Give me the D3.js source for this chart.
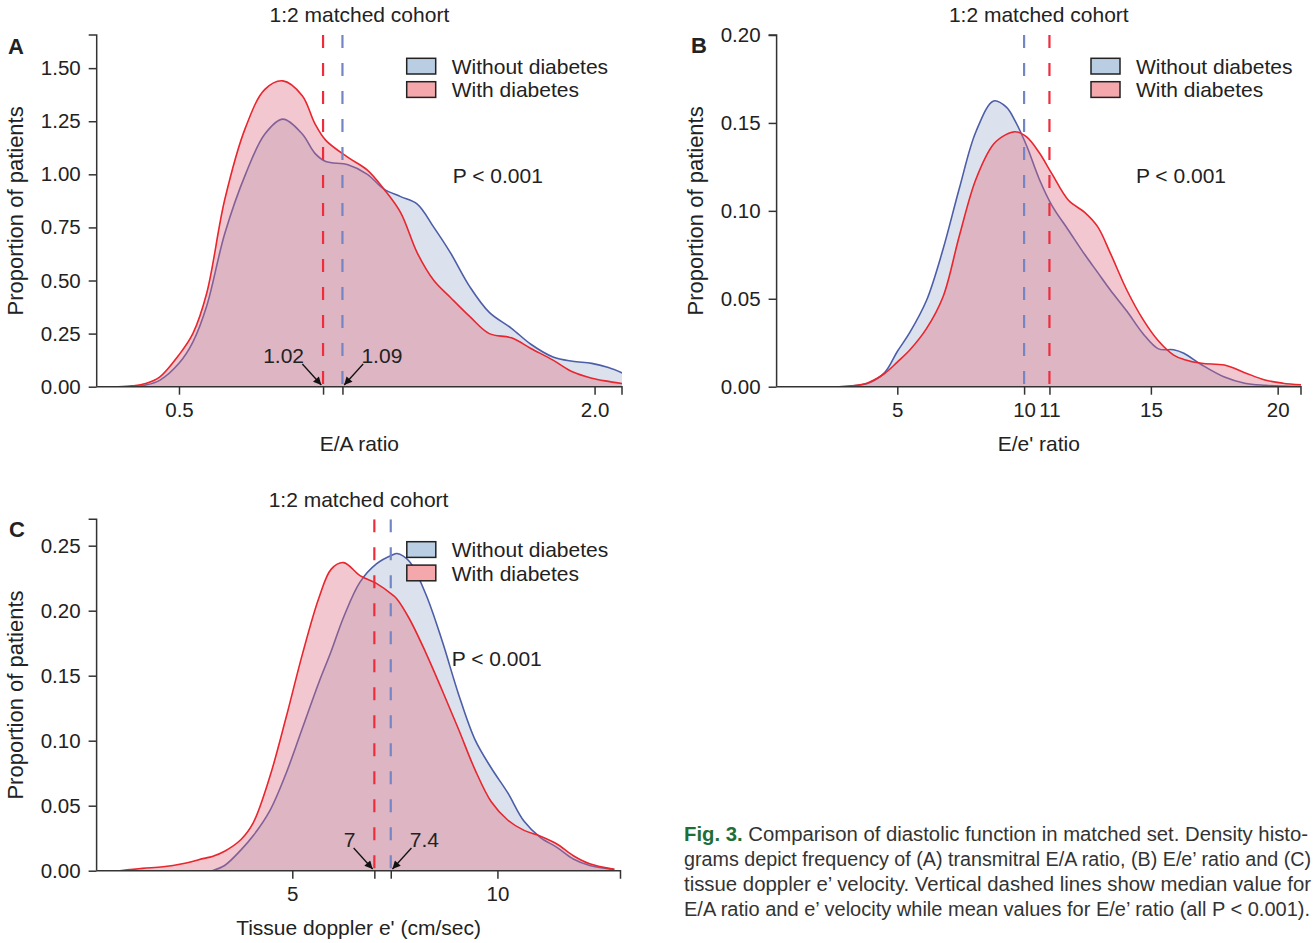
<!DOCTYPE html>
<html>
<head>
<meta charset="utf-8">
<script src="https://cdn.jsdelivr.net/npm/d3@7"></script>
<style>
  body { margin: 0; background: #fff; }
  svg { display: block; font-family: "Liberation Sans", Arial, sans-serif; }
</style>
</head>
<body>
<script>
// ---- data ----
const seriesNames = ["Without diabetes", "With diabetes"];

// A: E/A ratio
const eaX = [0.28, 0.33, 0.38, 0.43, 0.50, 0.55, 0.60, 0.665, 0.74, 0.81, 0.875, 0.945, 0.99, 1.03, 1.11,
  1.18, 1.24, 1.30, 1.36, 1.42, 1.48, 1.55, 1.62, 1.70, 1.77, 1.85, 1.92, 1.99, 2.05, 2.10];
const eaWithout = [0, 0, 0.008, 0.03, 0.11, 0.21, 0.38, 0.72, 1.00, 1.19, 1.26, 1.19, 1.10, 1.06, 1.045,
  1.00, 0.93, 0.895, 0.86, 0.75, 0.63, 0.47, 0.35, 0.275, 0.20, 0.14, 0.12, 0.11, 0.09, 0.065];
const eaWith = [0, 0.004, 0.015, 0.045, 0.15, 0.25, 0.44, 0.88, 1.22, 1.40, 1.44, 1.37, 1.24, 1.16, 1.08,
  1.02, 0.93, 0.82, 0.63, 0.50, 0.42, 0.33, 0.25, 0.23, 0.18, 0.125, 0.07, 0.04, 0.025, 0.015];
const eaMedians = [1.09, 1.02];
const eaXTicks = [0.5, 1.02, 1.09, 2.0];
const eaXLabels = ["0.5", "", "", "2.0"];
const eaYTicks = [0, 0.25, 0.5, 0.75, 1.0, 1.25, 1.5];

// B: E/e' ratio
const eeX = [2.7, 3.2, 3.85, 4.5, 5.0, 5.5, 6.15, 6.8, 7.45, 8.1, 8.8, 9.3, 9.65, 10.1, 10.6, 11.1, 11.75,
  12.4, 12.9, 13.4, 14.05, 14.7, 15.3, 15.9, 16.3, 17.0, 17.9, 18.7, 19.5, 20.2, 21.0];
const eeWithout = [0, 0.0005, 0.002, 0.008, 0.02, 0.031, 0.049, 0.078, 0.113, 0.145, 0.1625, 0.159, 0.151,
  0.137, 0.118, 0.103, 0.089, 0.075, 0.065, 0.055, 0.043, 0.030, 0.0215, 0.021, 0.019, 0.0125, 0.0055,
  0.002, 0.0008, 0.0003, 0];
const eeWith = [0, 0.0004, 0.0023, 0.0075, 0.014, 0.021, 0.033, 0.051, 0.086, 0.118, 0.138, 0.1435, 0.145,
  0.142, 0.133, 0.121, 0.106, 0.099, 0.091, 0.076, 0.055, 0.038, 0.026, 0.018, 0.0155, 0.0133, 0.0123,
  0.008, 0.0038, 0.002, 0.001];
const eeMeans = [10, 11];
const eeXTicks = [5, 10, 11, 15, 20];
const eeXLabels = ["5", "10", "11", "15", "20"];
const eeYTicks = [0, 0.05, 0.10, 0.15, 0.20];

// C: tissue doppler e'
const tdX = [0.8, 1.35, 1.85, 2.35, 2.85, 3.05, 3.35, 3.75, 4.05, 4.45, 4.85, 5.25, 5.65, 5.95, 6.25, 6.65,
  7.05, 7.45, 7.55, 7.85, 8.25, 8.65, 9.05, 9.45, 9.85, 10.25, 10.65, 11.05, 11.45, 11.85, 12.25, 12.85];
const tdWithout = [null, null, null, null, null, 0, 0.004, 0.016, 0.027, 0.046, 0.075, 0.110, 0.145, 0.169,
  0.195, 0.222, 0.236, 0.243, 0.244, 0.238, 0.213, 0.177, 0.136, 0.101, 0.079, 0.060, 0.038, 0.0255,
  0.018, 0.009, 0.004, 0.0008];
const tdWith = [0, 0.0018, 0.003, 0.0056, 0.0095, 0.011, 0.015, 0.024, 0.037, 0.072, 0.118, 0.167, 0.21,
  0.232, 0.237, 0.227, 0.221, 0.212, 0.209, 0.194, 0.168, 0.139, 0.109, 0.078, 0.053, 0.039, 0.031,
  0.0265, 0.0205, 0.0115, 0.0053, 0.001];
const tdMedians = [7.4, 7];
const tdXTicks = [5, 7, 7.4, 10];
const tdXLabels = ["5", "", "", "10"];
const tdYTicks = [0, 0.05, 0.10, 0.15, 0.20, 0.25];

const captionLines = [
  " Comparison of diastolic function in matched set. Density histo-",
  "grams depict frequency of (A) transmitral E/A ratio, (B) E/e\u2019 ratio and (C)",
  "tissue doppler e\u2019 velocity. Vertical dashed lines show median value for",
  "E/A ratio and e\u2019 velocity while mean values for E/e\u2019 ratio (all P < 0.001)."
];

// ---- styling ----
const lineColors = ["#4d5ea8", "#e8262e"];
const fillColors = ["rgba(150,168,200,0.33)", "rgba(222,104,124,0.37)"];
const dashColors = ["#7485c6", "#ee2c3c"];
const swatchColors = ["#b9cde3", "#f4a8ab"];
const ink = "#222";

const panels = [
  { id: "a", letter: "A", l: 96.7, r: 622, t: 35, b: 386.7, xDomain: [0.203, 2.099], yMax: 1.656,
    xs: eaX, series: [eaWithout, eaWith], marks: eaMedians, xTicks: eaXTicks, xLabels: eaXLabels,
    yTicks: eaYTicks, xTitle: "E/A ratio", titleY: 450.7, letterPos: [8, 54], legend: [406.7, 58.3],
    pPos: [452.8, 183], yTitleX: 23, arrows: true },
  { id: "b", letter: "B", l: 776.6, r: 1301, t: 35, b: 386.7, xDomain: [0.24, 20.92], yMax: 0.2,
    xs: eeX, series: [eeWithout, eeWith], marks: eeMeans, xTicks: eeXTicks, xLabels: eeXLabels,
    yTicks: eeYTicks, xTitle: "E/e' ratio", titleY: 450.7, letterPos: [691, 53], legend: [1091, 58.3],
    pPos: [1135.9, 183], yTitleX: 703, arrows: false },
  { id: "c", letter: "C", l: 96.6, r: 620.5, t: 519.3, b: 870.7, xDomain: [0.23, 13.0], yMax: 0.2703,
    xs: tdX, series: [tdWithout, tdWith], marks: tdMedians, xTicks: tdXTicks, xLabels: tdXLabels,
    yTicks: tdYTicks, xTitle: "Tissue doppler e' (cm/sec)", titleY: 935, letterPos: [9, 537],
    legend: [406.8, 541.7], pPos: [451.7, 665.7], yTitleX: 23, arrows: true }
];

const svg = d3.select("body").append("svg")
  .attr("width", 1313)
  .attr("height", 943);

const defs = svg.append("defs");
defs.append("marker")
  .attr("id", "arrowhead")
  .attr("viewBox", "0 0 10 10")
  .attr("refX", 10)
  .attr("refY", 5)
  .attr("markerWidth", 10)
  .attr("markerHeight", 8)
  .attr("markerUnits", "userSpaceOnUse")
  .attr("orient", "auto")
  .append("path")
  .attr("d", "M0,0L10,5L0,10z")
  .attr("fill", "#111");

panels.forEach(p => {
  const x = d3.scaleLinear().domain(p.xDomain).range([p.l, p.r]);
  const y = d3.scaleLinear().domain([0, p.yMax]).range([p.b, p.t]);
  const g = svg.append("g");

  defs.append("clipPath").attr("id", `clip-${p.id}`)
    .append("rect")
    .attr("x", p.l).attr("y", p.t)
    .attr("width", p.r - p.l).attr("height", p.b - p.t);

  const plot = g.append("g").attr("clip-path", `url(#clip-${p.id})`);

  const curve = d3.curveCatmullRom.alpha(0.5);
  const area = d3.area()
    .defined(d => d.v != null)
    .x(d => x(d.x))
    .y0(y(0))
    .y1(d => y(Math.max(0, d.v)))
    .curve(curve);
  const line = d3.line()
    .defined(d => d.v != null)
    .x(d => x(d.x))
    .y(d => y(d.v))
    .curve(curve);

  // without diabetes first, then with diabetes over it
  p.series.forEach((vals, k) => {
    const pts = p.xs.map((xv, i) => ({ x: xv, v: vals[i] }));
    plot.append("path")
      .attr("d", area(pts))
      .attr("fill", fillColors[k]);
    plot.append("path")
      .attr("d", line(pts))
      .attr("fill", "none")
      .attr("stroke", lineColors[k])
      .attr("stroke-width", 1.6);
  });

  // vertical dashed lines (median / mean)
  plot.selectAll(".mark")
    .data(p.marks)
    .enter()
    .append("line")
    .attr("x1", d => x(d)).attr("x2", d => x(d))
    .attr("y1", y(p.yMax)).attr("y2", y(0))
    .attr("stroke", (d, i) => dashColors[i])
    .attr("stroke-width", 2.2)
    .attr("stroke-dasharray", "13,15");

  // axes
  const xAxis = d3.axisBottom(x)
    .tickValues(p.xTicks)
    .tickFormat((d, i) => p.xLabels[i])
    .tickSize(8).tickPadding(8).tickSizeOuter(0);
  const xg = g.append("g").attr("transform", `translate(0,${p.b})`).call(xAxis);
  xg.select(".domain").attr("d", `M${p.l},0H${p.r}V8`);

  const yAxis = d3.axisLeft(y)
    .tickValues(p.yTicks)
    .tickFormat(d3.format(".2f"))
    .tickSize(8).tickPadding(8).tickSizeOuter(0);
  const yg = g.append("g").attr("transform", `translate(${p.l},0)`).call(yAxis);
  yg.select(".domain").attr("d", `M-8,${p.t}H0V${p.b}`);

  [xg, yg].forEach(ax => {
    ax.selectAll("path, line").attr("stroke", "#333").attr("stroke-width", 1.5);
    ax.selectAll("text").attr("font-size", 20.5).attr("fill", ink)
      .attr("font-family", '"Liberation Sans", Arial, sans-serif');
  });

  // titles
  const cx = (p.l + p.r) / 2;
  g.append("text").attr("x", cx).attr("y", p.t - 12.6)
    .attr("text-anchor", "middle").attr("font-size", 21).attr("fill", ink)
    .text("1:2 matched cohort");
  g.append("text").attr("x", cx).attr("y", p.titleY)
    .attr("text-anchor", "middle").attr("font-size", 21).attr("fill", ink)
    .text(p.xTitle);
  g.append("text")
    .attr("transform", `translate(${p.yTitleX},${(p.t + p.b) / 2}) rotate(-90)`)
    .attr("text-anchor", "middle").attr("font-size", 22).attr("fill", ink)
    .text("Proportion of patients");
  g.append("text").attr("x", p.letterPos[0]).attr("y", p.letterPos[1])
    .attr("font-size", 22).attr("font-weight", "bold").attr("fill", ink)
    .text(p.letter);
  g.append("text").attr("x", p.pPos[0]).attr("y", p.pPos[1])
    .attr("font-size", 21).attr("fill", ink)
    .text("P < 0.001");

  // legend
  const leg = g.append("g").attr("transform", `translate(${p.legend[0]},${p.legend[1]})`);
  seriesNames.forEach((name, k) => {
    leg.append("rect")
      .attr("x", 0).attr("y", k * 23.4)
      .attr("width", 29).attr("height", 15.7)
      .attr("fill", swatchColors[k])
      .attr("stroke", "#222").attr("stroke-width", 1.5);
    leg.append("text")
      .attr("x", 45).attr("y", k * 23.4 + 15.7)
      .attr("font-size", 21).attr("fill", ink)
      .text(name);
  });

  // arrows pointing at the medians
  if (p.arrows) {
    p.marks.forEach((m, k) => {
      const side = k === 0 ? 1 : -1; // without: label right, with: label left
      const tipX = x(m) + side * 1.7;
      const tipY = y(0) - 1.7;
      g.append("line")
        .attr("x1", tipX + side * 19).attr("y1", tipY - 21)
        .attr("x2", tipX).attr("y2", tipY)
        .attr("stroke", "#111").attr("stroke-width", 1.3)
        .attr("marker-end", "url(#arrowhead)");
      g.append("text")
        .attr("x", x(m) + side * 19)
        .attr("y", y(0) - 23.5)
        .attr("text-anchor", side > 0 ? "start" : "end")
        .attr("font-size", 21).attr("fill", ink)
        .text(String(m));
    });
  }
});

// caption: narrow-ish text, stretched vertically to match the condensed face
const capWidths = [624, 627, 627, 626];
const cap = svg.append("g").attr("font-size", 17.2).attr("fill", "#333");
captionLines.forEach((txt, i) => {
  const t = cap.append("text")
    .attr("transform", `translate(684,${841 + i * 25}) scale(1,1.16)`)
    .attr("x", 0)
    .attr("y", 0)
    .attr("textLength", capWidths[i])
    .attr("lengthAdjust", "spacingAndGlyphs");
  if (i === 0) {
    t.append("tspan").attr("font-weight", "bold").attr("fill", "#1f6e38").text("Fig. 3.");
  }
  t.append("tspan").text(txt);
});
</script>
</body>
</html>
